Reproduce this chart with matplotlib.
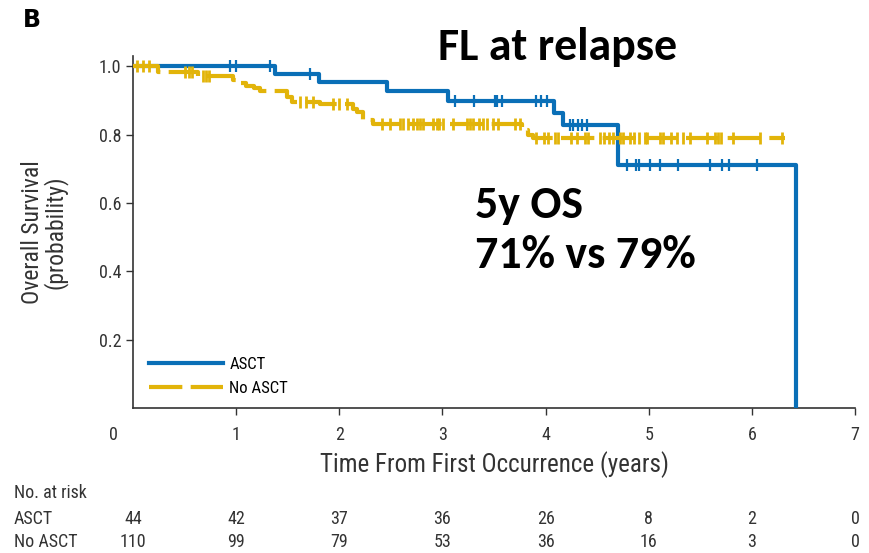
import numpy as np
import matplotlib.pyplot as plt
from matplotlib import font_manager
from matplotlib.lines import Line2D
from matplotlib.transforms import blended_transform_factory

available = {f.name for f in font_manager.fontManager.ttflist}


def pick(cands, default):
    for c in cands:
        if c in available:
            return c
    return default


narrow = pick(['Liberation Sans Narrow', 'Roboto Condensed', 'Archivo Narrow',
               'PT Sans Narrow', 'Fira Sans Condensed', 'IBM Plex Sans Condensed',
               'Asap Condensed', 'Pragati Narrow'], 'DejaVu Sans')
calibri = pick(['Carlito', 'Lato'], 'DejaVu Sans')
plt.rcParams['font.family'] = [narrow, 'DejaVu Sans']

blue = "#0a6fb7"
yellow = "#e2b40a"

# Kaplan-Meier steps (time, survival)
asct_t = [0, 1.38, 1.80, 2.46, 3.05, 4.08, 4.17, 4.70, 6.43]
asct_s = [1.0, 0.977, 0.953, 0.926, 0.897, 0.862, 0.828, 0.710, 0.0]
asct_cens = [0.94, 1.00, 1.33, 1.72, 3.12, 3.31, 3.51, 3.53, 3.58, 3.91, 3.96, 4.01,
             4.24, 4.27, 4.31, 4.35, 4.40, 4.79, 4.88, 4.91, 5.01, 5.11, 5.28,
             5.59, 5.71, 5.78, 6.05]

no_t = [0, 0.245, 0.63, 0.97, 1.04, 1.10, 1.17, 1.23, 1.49, 1.54, 1.81, 2.13,
        2.17, 2.23, 2.33, 3.77, 3.83, 3.88, 6.32]
no_s = [1.0, 0.982, 0.970, 0.960, 0.950, 0.942, 0.935, 0.928, 0.910, 0.896,
        0.889, 0.875, 0.866, 0.842, 0.832, 0.813, 0.800, 0.789, 0.789]
no_cens = [0.04, 0.10, 0.16, 0.50, 0.54, 0.57, 0.68, 0.71, 0.74, 1.62, 1.68,
           1.75, 1.94, 2.00, 2.07, 2.41, 2.49, 2.59, 2.62, 2.67, 2.71, 2.75,
           2.78, 2.81, 2.91, 2.95, 2.97, 3.01, 3.10, 3.24, 3.27, 3.30, 3.35,
           3.39, 3.43, 3.49, 3.54, 3.70, 3.75, 3.91, 3.98, 4.02, 4.09, 4.12,
           4.25, 4.30, 4.38, 4.41, 4.53, 4.57, 4.61, 4.65, 4.72, 4.75, 4.82,
           4.86, 4.91, 4.96, 4.98, 5.11, 5.14, 5.22, 5.27, 5.33, 5.40, 5.56,
           5.64, 5.67, 5.70, 5.82, 6.08, 6.29]

risk_times = [0, 1, 2, 3, 4, 5, 6, 7]
risk_asct = [44, 42, 37, 36, 26, 8, 2, 0]
risk_no = [110, 99, 79, 53, 36, 16, 3, 0]


def surv_at(times, surv, x):
    idx = np.searchsorted(times, x, side='right') - 1
    return np.array(surv)[idx]


fig = plt.figure(figsize=(8.69, 5.53), dpi=100)
ax = fig.add_axes([0.153, 0.262, 0.831, 0.637])

ax.step(asct_t, asct_s, where='post', color=blue, lw=3, zorder=3)
ax.plot(asct_cens, surv_at(asct_t, asct_s, asct_cens), ls='none', marker='|',
        ms=8, mew=1.6, color=blue, zorder=3)

ax.step(no_t, no_s, where='post', color=yellow, lw=3, dashes=(8, 2), zorder=4)
ax.plot(no_cens, surv_at(no_t, no_s, no_cens), ls='none', marker='|',
        ms=8, mew=2, color=yellow, zorder=4)

ax.set_xlim(0, 7)
ax.set_ylim(0, 1.03)
ax.set_xticks(range(1, 8))
ax.set_yticks([0.2, 0.4, 0.6, 0.8, 1.0])
ax.set_yticklabels(["0.2", "0.4", "0.6", "0.8", "1.0"])
ax.tick_params(direction='out', length=5, width=1, labelsize=13,
               labelcolor='#333333', color='#333333')
ax.tick_params(axis='x', pad=8)
for s in ['top', 'right']:
    ax.spines[s].set_visible(False)
for s in ['left', 'bottom']:
    ax.spines[s].set_color('#333333')
    ax.spines[s].set_linewidth(1.2)

ax.text(-0.19, -0.075, "0", transform=blended_transform_factory(ax.transData, ax.transAxes),
        ha='center', va='center', fontsize=13, color='#333333')

ax.set_xlabel("Time From First Occurrence (years)", fontsize=18, color='#333333', labelpad=5)
ax.set_ylabel("Overall Survival\n(probability)", fontsize=17, color='#333333',
              labelpad=22, linespacing=0.95)

handles = [Line2D([], [], color=blue, lw=3),
           Line2D([], [], color=yellow, lw=3, dashes=(8, 2))]
ax.legend(handles, ["ASCT", "No ASCT"], loc='lower left', bbox_to_anchor=(0.002, -0.008),
          frameon=False, fontsize=12, handlelength=4.4, handletextpad=0.4,
          labelspacing=0.55)

fig.text(0.026, 0.963, "B", fontsize=17, fontweight='bold', family='DejaVu Sans',
         ha='left', va='center')
fig.text(0.504, 0.891, "FL at relapse", fontsize=33, fontweight='bold', family=calibri,
         ha='left', va='baseline')
fig.text(0.547, 0.606, "5y OS", fontsize=33, fontweight='bold', family=calibri,
         ha='left', va='baseline')
fig.text(0.547, 0.515, "71% vs 79%", fontsize=33, fontweight='bold', family=calibri,
         ha='left', va='baseline')

# number at risk table
tr = blended_transform_factory(ax.transData, fig.transFigure)
fig.text(0.016, 0.108, "No. at risk", fontsize=13, color='#333333', va='center')
fig.text(0.016, 0.061, "ASCT", fontsize=13, color='#333333', va='center')
fig.text(0.016, 0.020, "No ASCT", fontsize=13, color='#333333', va='center')
for t, a, n in zip(risk_times, risk_asct, risk_no):
    ax.text(t, 0.061, str(a), transform=tr, ha='center', va='center', fontsize=13,
            color='#333333')
    ax.text(t, 0.020, str(n), transform=tr, ha='center', va='center', fontsize=13,
            color='#333333')

fig.savefig("out.png", dpi=100)
